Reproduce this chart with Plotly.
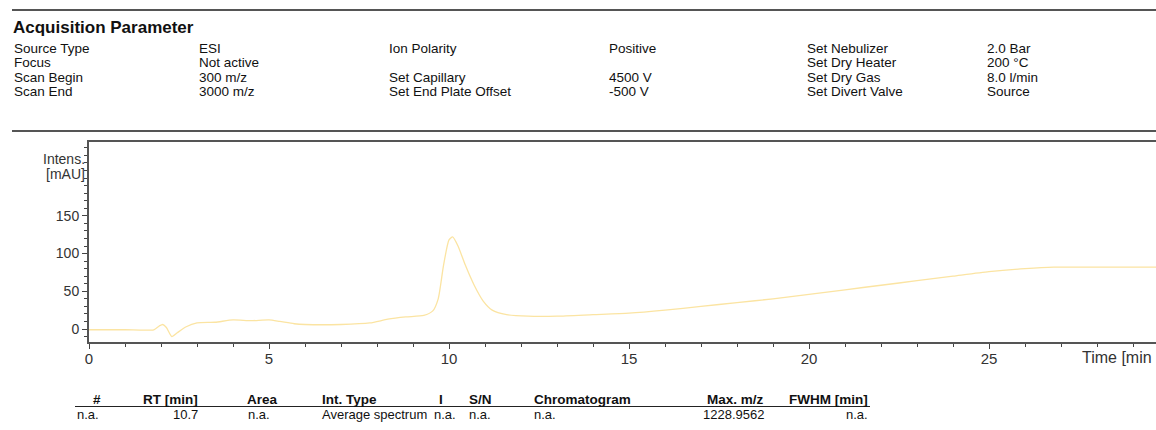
import plotly.graph_objects as go

# ---------------- data ----------------
time_min = [0, 1.0, 1.8, 1.95, 2.05, 2.15, 2.3, 2.45, 2.7, 3.0, 3.5, 4.0, 4.5, 5.0, 5.3,
            5.7, 6.0, 7.0, 7.8, 8.3, 8.8, 9.3, 9.55, 9.7, 9.85, 10.0, 10.1, 10.25, 10.45,
            10.7, 10.95, 11.2, 11.6, 12.2, 13.0, 14.0, 15.0, 16.0, 17.0, 18.0, 19.0, 20.0,
            21.0, 22.0, 23.0, 24.0, 25.0, 26.0, 26.8, 28.0, 29.0, 29.7]
intensity = [-1, -1, -1, 4, 6, 2, -10, -5, 3, 8, 9, 12, 11, 12, 10,
             7, 6, 6, 8, 13, 16, 18, 24, 40, 85, 118, 122, 110, 85,
             58, 37, 25, 19, 17, 17, 19, 21, 25, 30, 35, 40, 46,
             52, 58, 64, 70, 76, 80, 82, 82, 82, 82]

x_ticks = [0, 5, 10, 15, 20, 25]
y_ticks = [0, 50, 100, 150]
y_minor = [-10, 10, 20, 30, 40, 60, 70, 80, 90, 110, 120, 130, 140, 160, 170, 180, 190, 200, 210, 220, 230, 240]

param_rows = [
    ["Source Type", "ESI", "Ion Polarity", "Positive", "Set Nebulizer", "2.0 Bar"],
    ["Focus", "Not active", "", "", "Set Dry Heater", "200 °C"],
    ["Scan Begin", "300 m/z", "Set Capillary", "4500 V", "Set Dry Gas", "8.0 l/min"],
    ["Scan End", "3000 m/z", "Set End Plate Offset", "-500 V", "Set Divert Valve", "Source"],
]

table_header = ["#", "RT [min]", "Area", "Int. Type", "I", "S/N", "Chromatogram", "Max. m/z", "FWHM [min]"]
table_row = ["n.a.", "10.7", "n.a.", "Average spectrum", "n.a.", "n.a.", "n.a.", "1228.9562", "n.a."]

# ---------------- layout helpers ----------------
W, H = 1156, 430
L, R, T, B = 89, 1156, 142, 342


def px(x):
    return (x - L) / (R - L)


def py(y):
    return (B - y) / (B - T)


FONT = "Liberation Sans, Arial, sans-serif"
TXT = "#111111"

fig = go.Figure()
fig.add_trace(go.Scatter(x=time_min, y=intensity, mode="lines",
                         line=dict(color="#FBE4A2", width=1.3, shape="spline", smoothing=0.6),
                         hoverinfo="skip", showlegend=False))

ann = []


def text(x, y, s, size=13, bold=False, anchor="left", color=TXT):
    ann.append(dict(x=px(x), y=py(y), xref="paper", yref="paper", text=("<b>%s</b>" % s) if bold else s,
                    showarrow=False, xanchor=anchor, yanchor="middle",
                    font=dict(family=FONT, size=size, color=color)))


text(11, 27, "Acquisition Parameter", size=17, bold=True)
col_x = [12, 197, 387, 607, 805, 985]
row_y = [48, 62.5, 77, 91.5]
for r, row in enumerate(param_rows):
    for c, s in enumerate(row):
        if s:
            text(col_x[c], row_y[r], s, size=13.5)

text(87, 159, "Intens.", size=14, anchor="right", color="#333")
text(87, 174, "[mAU]", size=14, anchor="right", color="#333")
text(1154, 357, "Time [min", size=16, anchor="right", color="#333")

# table
hdr_pos = [(103, "right"), (200, "right"), (262, "center"), (320, "left"), (445, "right"),
           (467, "left"), (532, "left"), (766, "right"), (870, "right")]
row_pos = [(75, "left"), (200, "right"), (259, "center"), (320, "left"), (445, "center"),
           (467, "left"), (532, "left"), (766, "right"), (870, "right")]
for (x, a), s in zip(hdr_pos, table_header):
    text(x, 399, s, size=13.5, bold=True, anchor=a)
for (x, a), s in zip(row_pos, table_row):
    text(x, 414, s, size=13, anchor=a)

shapes = [
    dict(type="line", xref="paper", yref="paper", x0=px(12), x1=px(1156), y0=py(10), y1=py(10),
         line=dict(color="#555555", width=2)),
    dict(type="line", xref="paper", yref="paper", x0=px(12), x1=px(1156), y0=py(131), y1=py(131),
         line=dict(color="#555555", width=2)),
    dict(type="line", xref="paper", yref="paper", x0=px(75), x1=px(870), y0=py(406.5), y1=py(406.5),
         line=dict(color="#222222", width=1)),
]

fig.update_layout(
    width=W, height=H,
    margin=dict(l=L, r=W - R, t=T, b=H - B, pad=0),
    paper_bgcolor="white", plot_bgcolor="white",
    annotations=ann, shapes=shapes,
    xaxis=dict(range=[0, (R - L) / 36.0], tickvals=x_ticks, ticks="outside", ticklen=5,
               tickcolor="#444", tickwidth=1, showline=True, linecolor="#555", linewidth=2,
               mirror=True, showgrid=False, zeroline=False, ticklabelstandoff=-3,
               tickfont=dict(family=FONT, size=15, color="#333"),
               minor=dict(dtick=1, ticks="outside", ticklen=3, tickcolor="#444", showgrid=False)),
    yaxis=dict(range=[-17.2, 247.8], tickvals=y_ticks, ticks="outside", ticklen=5,
               tickcolor="#444", tickwidth=1, showline=True, linecolor="#555", linewidth=2,
               showgrid=False, zeroline=False,
               tickfont=dict(family=FONT, size=14, color="#333"),
               minor=dict(tickmode="array", tickvals=y_minor, ticks="outside", ticklen=3,
                          tickcolor="#444", showgrid=False)),
)

fig.write_html("out.html")
